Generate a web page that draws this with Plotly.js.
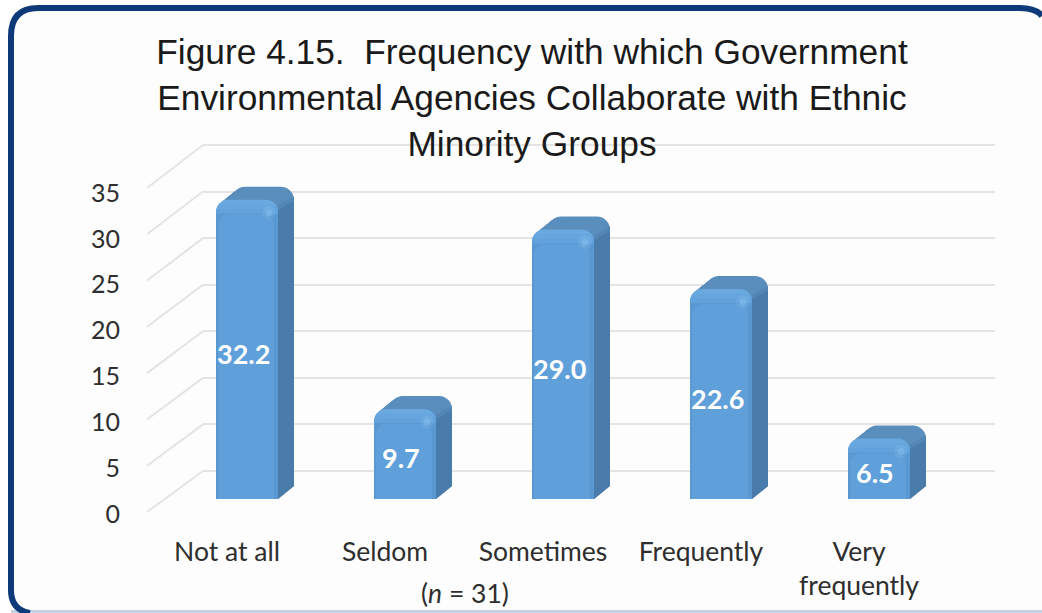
<!DOCTYPE html>
<html><head><meta charset="utf-8">
<script src="https://cdn.plot.ly/plotly-3.0.1.min.js"></script>
<style>html,body{margin:0;padding:0;background:#fff;overflow:hidden}#c{width:1042px;height:613px}</style>
</head><body><div id="c"></div>
<script>
const categories = ["Not at all","Seldom","Sometimes","Frequently","Very<br>frequently"];
const values = [32.2,9.7,29.0,22.6,6.5];
const valueLabels = ["32.2","9.7","29.0","22.6","6.5"];
const axisTicks = [0,5,10,15,20,25,30,35];
const W=1042,H=613;
const px=x=>x/W, py=y=>1-y/H;
const idx=categories.map((_,i)=>i);
const wall={x0:203,x1:995,y0:471,unit:326/35,pad:1};
const front={x0:148,x1:938,y0:514,y35:193};
const bars={x0:168,x1:958,y0:499,unit:9.29,yTop:100};
const xUnit=(bars.x1-bars.x0)/5;
const barW=62/xUnit, depthX=16, depthY=13, layers=16;
const traces=[];
traces.push({type:'scatter',x:[0,1],y:[0,35],xaxis:'x',yaxis:'y',mode:'markers',marker:{opacity:0},hoverinfo:'skip',showlegend:false});
traces.push({type:'scatter',x:idx,y:values,xaxis:'x2',yaxis:'y2',mode:'markers',marker:{opacity:0},hoverinfo:'skip',showlegend:false});
for(let k=layers;k>=1;k--){
  const f=k/layers;
  traces.push({type:'bar',x:idx.map(i=>i+f*depthX/xUnit),y:values,base:values.map(()=>f*depthY/bars.unit),width:barW,
    xaxis:'x3',yaxis:'y3',marker:{color:'#5a8ebd',cornerradius:13,line:{width:0}},hoverinfo:'skip',showlegend:false});
}
const rr=13/bars.unit;
const sidePoly=(color,up)=>idx.forEach(i=>{
  const xa=i+barW/2, xb=xa+depthX/xUnit, d=depthY/bars.unit, v=values[i];
  traces.push({type:'scatter',mode:'lines',fill:'toself',fillcolor:color,line:{width:0,color},
    x:[xa,xb,xb,xa],y:[0,d,v+d-rr*(1.1-up),v-rr*(0.8-up)],xaxis:'x3',yaxis:'y3',hoverinfo:'skip',showlegend:false});
});
sidePoly('#5386b5',0.35);
sidePoly('#4a7cab',0);
const frontBar=(ys,w,dx,color,r)=>({type:'bar',x:idx.map(i=>i+dx/xUnit),y:ys,width:w,xaxis:'x3',yaxis:'y3',
  marker:{color,cornerradius:r,line:{width:0}},hoverinfo:'skip',showlegend:false});
traces.push(frontBar(values,barW,0,'#6aa9e0',12));
traces.push(frontBar(values.map(v=>v-0.5),barW,0,'#66a5de',12));
traces.push(frontBar(values.map(v=>v-1.0),barW,0,'#62a2dc',12));
traces.push(frontBar(values.map(v=>v-1.5),barW,0,'#5a98d1',12));
traces.push(frontBar(values.map(v=>v-1.6),barW*0.9,-1,'#5f9fda',10));
[[14,'rgba(140,195,240,0.2)'],[7,'rgba(150,205,245,0.35)']].forEach(([size,color])=>{
  traces.push({type:'scatter',mode:'markers',x:idx.map(i=>i+22/xUnit),y:values.map(v=>v-1.4),xaxis:'x3',yaxis:'y3',
    marker:{size,color,line:{width:0}},hoverinfo:'skip',showlegend:false});
});
const shapes=[];
shapes.push({type:'path',xref:'paper',yref:'paper',layer:'below',line:{width:0},fillcolor:'#fdfdfd',
  path:`M ${px(11)} ${py(613)} L ${px(11)} ${py(36)} Q ${px(11)} ${py(8)} ${px(38)} ${py(8)} L ${px(1020)} ${py(8)} Q ${px(1036)} ${py(8)} ${px(1042)} ${py(16)} L ${px(1042)} ${py(613)} Z`});
shapes.push({type:'rect',xref:'paper',yref:'paper',layer:'below',x0:px(11),x1:1,y0:py(613),y1:py(610),fillcolor:'#c5d2e6',line:{width:0}});
shapes.push({type:'path',xref:'paper',yref:'paper',layer:'below',fillcolor:'rgba(0,0,0,0)',line:{color:'#0f3a7a',width:6},
  path:`M ${px(30)} ${py(613)} Q ${px(11)} ${py(610)} ${px(11)} ${py(590)} L ${px(11)} ${py(36)} Q ${px(11)} ${py(8)} ${px(38)} ${py(8)} L ${px(1020)} ${py(8)} Q ${px(1036)} ${py(8)} ${px(1042)} ${py(16)}`});
axisTicks.forEach(t=>{
  const yb=wall.y0-wall.unit*t, yf=512-324*t/35;
  shapes.push({type:'line',xref:'paper',yref:'paper',layer:'below',x0:px(147),y0:py(yf),x1:px(wall.x0),y1:py(yb),line:{color:'#e4e4e4',width:2}});
});
const font='Lato, "Open Sans", sans-serif';
const annotations=values.map((v,i)=>({xref:'x3',yref:'y3',x:i,y:v/2,text:'<b>'+valueLabels[i]+'</b>',showarrow:false,
  xshift:-4,yshift:-4,font:{family:font,size:27,color:'#ffffff'}}));
annotations.push({xref:'paper',yref:'paper',x:px(465),y:py(593),text:'(<i>n</i> = 31)',showarrow:false,xanchor:'center',yanchor:'middle',font:{family:font,size:26.5,color:'#2e2e2e'}});
const wallTop=wall.y0-wall.unit*(35+wall.pad), wallBot=wall.y0+wall.unit*wall.pad;
const layout={
  width:W,height:H,margin:{l:0,r:0,t:0,b:0},paper_bgcolor:'#ffffff',plot_bgcolor:'rgba(0,0,0,0)',showlegend:false,barmode:'overlay',
  title:{text:'Figure 4.15.\u00a0 Frequency with which Government<br>Environmental Agencies Collaborate with Ethnic<br>Minority Groups',
    x:px(532),xanchor:'center',xref:'paper',y:py(64),yanchor:'top',yref:'paper',font:{family:'"Liberation Sans", Arial, sans-serif',size:35.3,color:'#1a1a1a'}},
  xaxis:{domain:[px(wall.x0),px(wall.x1)],range:[0,1],anchor:'y',visible:false,showgrid:false,zeroline:false},
  yaxis:{domain:[py(wallBot),py(wallTop)],range:[-wall.pad,35+wall.pad],anchor:'x',tickvals:axisTicks,showticklabels:false,ticks:'',showgrid:true,gridcolor:'#e4e4e4',gridwidth:2,zeroline:false,showline:false},
  xaxis2:{domain:[px(front.x0),px(front.x1)],range:[-0.5,4.5],anchor:'y2',tickmode:'array',tickvals:idx,ticktext:categories,showgrid:false,zeroline:false,showline:false,ticks:'outside',ticklen:14,tickcolor:'rgba(0,0,0,0)',tickfont:{family:font,size:26.5,color:'#2e2e2e'}},
  yaxis2:{domain:[py(front.y0),py(front.y35)],range:[0,35],anchor:'x2',tickmode:'array',tickvals:axisTicks,ticktext:axisTicks.map(String),showgrid:false,zeroline:false,showline:false,ticks:'outside',ticklen:22,tickcolor:'rgba(0,0,0,0)',tickfont:{family:font,size:25,color:'#2e2e2e'}},
  xaxis3:{domain:[px(bars.x0),px(bars.x1)],range:[-0.5,4.5],anchor:'y3',visible:false,showgrid:false,zeroline:false},
  yaxis3:{domain:[py(bars.y0),py(bars.yTop)],range:[0,(bars.y0-bars.yTop)/bars.unit],anchor:'x3',visible:false,showgrid:false,zeroline:false},
  shapes,annotations
};
Plotly.newPlot('c',traces,layout,{displayModeBar:false,staticPlot:true});
</script></body></html>
